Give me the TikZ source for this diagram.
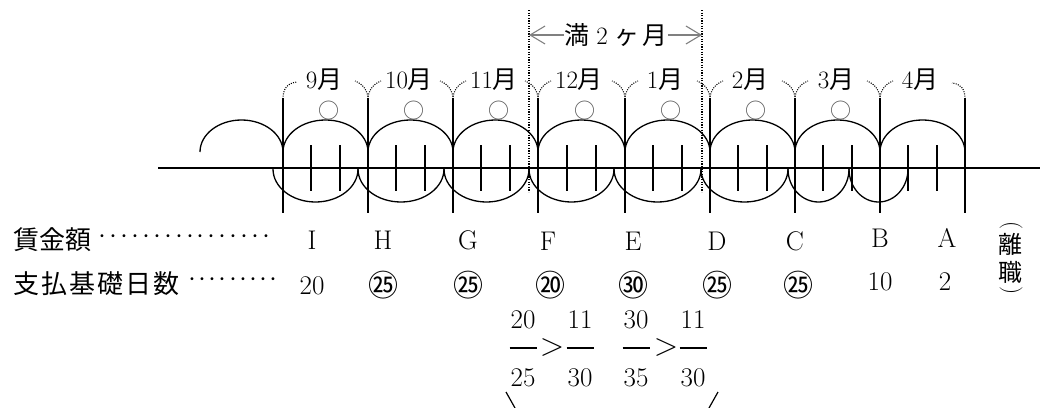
\documentclass[tikz,border=0pt]{standalone}
\usepackage{fontspec}
\newfontfamily\jp{Noto Sans CJK JP}
\usetikzlibrary{arrows.meta}
\begin{document}
\begin{tikzpicture}[x=1pt,y=-1pt,
  thickline/.style={line width=1.8pt},
  tickline/.style={line width=1.8pt},
  arcline/.style={line width=1.3pt},
  dotline/.style={line width=1.4pt,dash pattern=on 1.2pt off 1.4pt},
  ydot/.style={line width=1.1pt,dash pattern=on 1pt off 1.3pt},
  lab/.style={inner sep=0pt,font=\fontsize{27}{32}\selectfont},
  jlab/.style={inner sep=0pt,font=\fontsize{24}{28}\selectfont\jp},
  cnum/.style={inner sep=0pt,font=\fontsize{30}{34}\selectfont\jp},
  mlab/.style={inner sep=0pt,font=\fontsize{25}{30}\selectfont},
  okmark/.style={inner sep=0pt,text=black!65,font=\fontsize{21}{24}\selectfont\jp},
  garrow/.style={draw=black!50,line width=1.1pt,-{Straight Barb[length=15pt,width=18pt]}}
]
\useasboundingbox (0,0) rectangle (1044,407);

% main horizontal line
\coordinate (hl) at (158,168);
\coordinate (hr) at (1040,168);
\draw[thickline] (hl) -- (hr);

% month boundaries
\foreach \b in {283,368,453,538,625,710,795,880,965}{
  \draw[thickline] (\b,98) -- (\b,213);
}

% ticks
\foreach \a/\b in {283/368,368/453,453/538,538/625,625/710,710/795,795/880,880/965}{
  \pgfmathsetmacro\ta{\a+(\b-\a)/3}
  \pgfmathsetmacro\tb{\a+2*(\b-\a)/3}
  \draw[tickline] (\ta,145) -- (\ta,191);
  \draw[tickline] (\tb,145) -- (\tb,191);
}

% upper arcs
\foreach \a/\b in {200/283,283/368,368/453,453/538,538/625,625/710,710/795,795/880,880/965}{
  \pgfmathsetmacro\r{(\b-\a)/2}
  \draw[arcline] (\a,152) arc[start angle=180,end angle=0,x radius=\r pt,y radius=32pt];
}

% lower arcs
\foreach \a/\b in {273/358,358/444,444/529,529/614,614/701,701/788,788/849,849/908}{
  \pgfmathsetmacro\r{(\b-\a)/2}
  \draw[arcline] (\a,169) arc[start angle=180,end angle=360,x radius=\r pt,y radius=33pt];
}

% dotted vertical lines (full 2 months)
\coordinate (da) at (529,10);
\coordinate (db) at (702,10);
\draw[dotline] (da) -- (529,192);
\draw[dotline] (db) -- (702,192);

% dotted Y marks above boundaries
\draw[ydot] (283,99) .. controls (283,89) and (287,83) .. (297,82);
\foreach \b in {368,453,538,625,710,795,880}{
  \draw[ydot] (\b,99) .. controls (\b,91) and (\b+5,84) .. (\b+13,81);
  \draw[ydot] (\b,99) .. controls (\b,91) and (\b-5,84) .. (\b-13,81);
}
\draw[ydot] (965,99) .. controls (965,89) and (961,84) .. (952,83);

% month labels
\node[mlab] (m9)  at (324,80) {9{\jp 月}};
\node[mlab] (m10) at (409,80) {10{\jp 月}};
\node[mlab] (m11) at (494,80) {11{\jp 月}};
\node[mlab] (m12) at (579,80) {12{\jp 月}};
\node[mlab] (m1)  at (665,80) {1{\jp 月}};
\node[mlab] (m2)  at (750,80) {2{\jp 月}};
\node[mlab] (m3)  at (836,80) {3{\jp 月}};
\node[mlab] (m4)  at (920,80) {4{\jp 月}};

% circles
\foreach \c [count=\i] in {329,414,499,585,671,756,841}{
  \node[okmark] (ok\i) at (\c,111) {○};
}

% full 2 months label with arrows
\node[mlab] (full) at (616,35) {{\jp 満}\hspace{7pt}2\hspace{7pt}{\jp ヶ}\hspace{3pt}{\jp 月}};
\coordinate (fa) at (529,35);
\coordinate (fb) at (702,35);
\draw[garrow] (full.west) -- (fa);
\draw[garrow] (full.east) -- (fb);

% row 1
\node[jlab,anchor=west,font=\fontsize{26}{30}\selectfont\jp] (r1) at (13,240) {賃金額};
\node[lab,font=\fontsize{36}{40}\selectfont] (d1) at (184.5,242) {\hbox to 175pt{\xleaders\hbox to 10.3pt{\hss·\hss}\hfill}};
\node[lab] (lI) at (312,240) {I};
\node[lab] (lH) at (383,240) {H};
\node[lab] (lG) at (468,240) {G};
\node[lab] (lF) at (548,241) {F};
\node[lab] (lE) at (633,241) {E};
\node[lab] (lD) at (717,241) {D};
\node[lab] (lC) at (795,241) {C};
\node[lab] (lB) at (880,238) {B};
\node[lab] (lA) at (947,238) {A};

% row 2
\node[jlab,anchor=west,font=\fontsize{26}{30}\selectfont\jp] (r2) at (13,284) {支\kern2pt 払\kern2pt 基\kern2pt 礎\kern2pt 日\kern2pt 数};
\node[lab,font=\fontsize{36}{40}\selectfont] (d2) at (233,285) {\hbox to 92pt{\xleaders\hbox to 10.2pt{\hss·\hss}\hfill}};
\node[lab] (n1) at (312,286) {20};
\node[cnum] (n2) at (383,285) {㉕};
\node[cnum] (n3) at (468,285) {㉕};
\node[cnum] (n4) at (550,285) {⑳};
\node[cnum] (n5) at (633,285) {㉚};
\node[cnum] (n6) at (717,285) {㉕};
\node[cnum] (n7) at (798,285) {㉕};
\node[lab] (n8) at (880,282) {10};
\node[lab] (n9) at (945,282) {2};

% resignation (vertical)
\node[lab,font=\fontsize{23}{26}\selectfont] (pt) at (1011,226) {\rotatebox{-90}{(}};
\node[jlab] (k1) at (1010,244) {離};
\node[jlab] (k2) at (1010,272) {職};
\node[lab,font=\fontsize{23}{26}\selectfont] (pb) at (1011,291) {\rotatebox{-90}{)}};

% fractions
\node[lab] (f1n) at (523,320) {20};
\node[lab] (f1b) at (523,348) {\rule{27pt}{1.2pt}};
\node[lab] (f1d) at (523,378) {25};
\node[lab,font=\fontsize{32}{36}\selectfont] (g1) at (552,348) {>};
\node[lab] (f2n) at (580,320) {11};
\node[lab] (f2b) at (580,348) {\rule{27pt}{1.2pt}};
\node[lab] (f2d) at (580,378) {30};
\node[lab] (f3n) at (636,320) {30};
\node[lab] (f3b) at (636,348) {\rule{27pt}{1.2pt}};
\node[lab] (f3d) at (636,378) {35};
\node[lab,font=\fontsize{32}{36}\selectfont] (g2) at (666,348) {>};
\node[lab] (f4n) at (693,320) {11};
\node[lab] (f4b) at (693,348) {\rule{27pt}{1.2pt}};
\node[lab] (f4d) at (693,378) {30};

% bracket lines at bottom
\coordinate (bl1) at (506,392);
\coordinate (bl2) at (515,408);
\coordinate (br1) at (718,392);
\coordinate (br2) at (709,408);
\draw[line width=1.2pt] (bl1) -- (bl2);
\draw[line width=1.2pt] (br1) -- (br2);
\end{tikzpicture}
\end{document}
